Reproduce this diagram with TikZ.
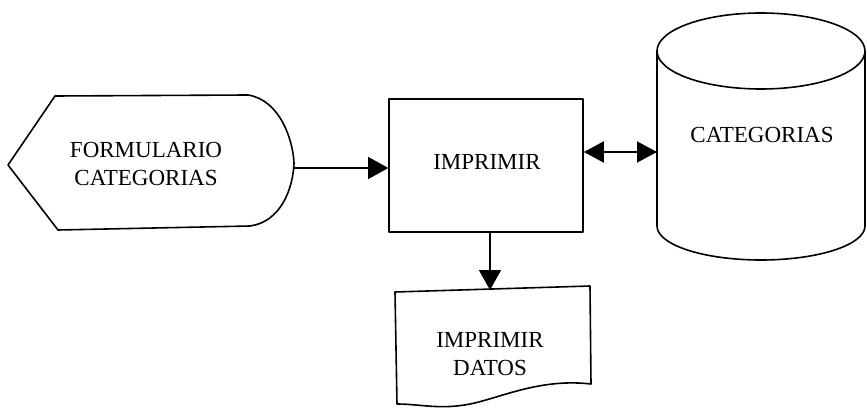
\documentclass[tikz,border=0pt]{standalone}
\usepackage{fontspec}
\setmainfont{Liberation Serif}
\usetikzlibrary{arrows.meta}
\begin{document}
\begin{tikzpicture}[x=1pt,y=-1pt,
  shapeline/.style={line width=1.6pt, line join=round},
  lbl/.style={font=\fontsize{23}{28}\selectfont, align=center, inner sep=0pt},
  conn/.style={line width=1.5pt, -{Triangle[length=20pt,width=22pt]}},
  conn2/.style={line width=1.5pt, {Triangle[length=20pt,width=21pt]}-{Triangle[length=20pt,width=21pt]}}]
\useasboundingbox (0,0) rectangle (867,414);
% display shape
\draw[shapeline] (8,165) -- (55,96) -- (248,95)
  .. controls (280,100) and (293,140) .. (294,163)
  .. controls (293,190) and (280,222) .. (250,226)
  -- (58,230) -- cycle;
\node[lbl] (form) at (146,164) {FORMULARIO\\CATEGORIAS};
\coordinate (formtip) at (294,168);
% process box
\node[draw, shapeline, minimum width=194pt, minimum height=133pt, inner sep=0pt] (imp) at (486,165.5) {};
\node[lbl] (imptxt) at (487,162) {IMPRIMIR};
% cylinder
\draw[shapeline] (761,51) ellipse [x radius=104, y radius=38];
\draw[shapeline] (657,51) -- (657,226) arc[start angle=180, end angle=0, x radius=104, y radius=34] -- (865,51);
\node[lbl] (db) at (762,135) {CATEGORIAS};
\coordinate (dbw) at (657,152);
% document
\draw[shapeline] (395,292) -- (590,286) -- (591,384)
  .. controls (540,378) and (500,398) .. (470,404)
  .. controls (440,410) and (420,404) .. (397,404) -- cycle;
\node[lbl] (doc) at (490,354) {IMPRIMIR\\DATOS};
\coordinate (doctop) at (490,290);
% connectors
\draw[conn] (formtip) -- (imp.west |- formtip);
\draw[conn2] (imp.east |- dbw) -- (dbw);
\draw[conn] (imp.south -| doctop) -- (doctop);
\end{tikzpicture}
\end{document}
